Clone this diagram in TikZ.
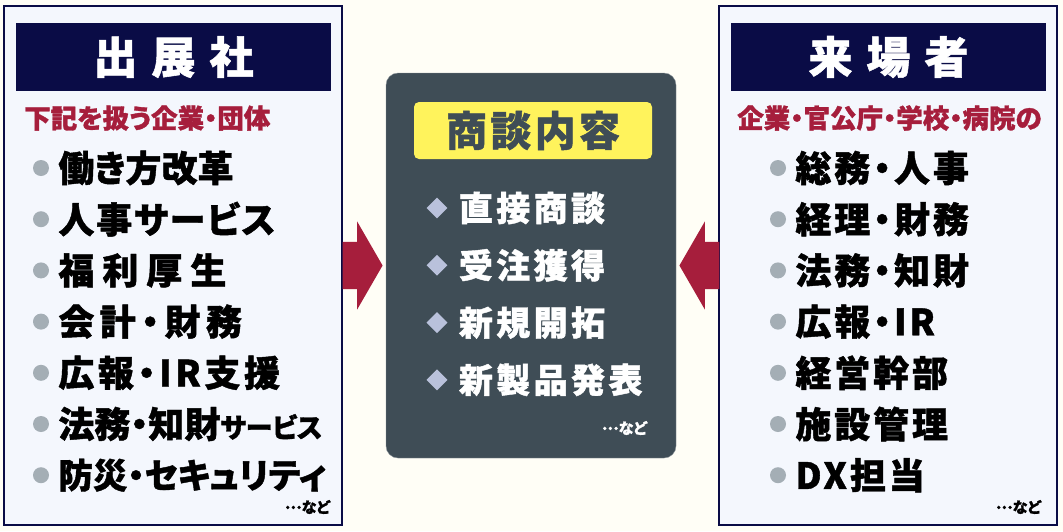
\documentclass[tikz,border=0pt]{standalone}
\usepackage{fontspec}
\setmainfont{Noto Sans CJK JP}[RawFeature=+palt, BoldFeatures={FakeBold=1.2}]
\usetikzlibrary{positioning, calc, shapes.arrows, shapes.geometric}

\definecolor{cream}{HTML}{FFFEF6}
\definecolor{navy}{HTML}{0A0C46}
\definecolor{panelbg}{HTML}{F4F7FD}
\definecolor{crimson}{HTML}{A61E3C}
\definecolor{dotgray}{HTML}{A4AEB5}
\definecolor{slate}{HTML}{3F4D56}
\definecolor{lblyellow}{HTML}{FFF35C}
\definecolor{diamondc}{HTML}{B9C1DB}

\newcommand{\spaced}[1]{\addfontfeature{LetterSpace=#1}}

\begin{document}
\begin{tikzpicture}[x=1pt, y=-1pt]
    \tikzset{
        panel/.style={draw=navy, line width=2.5pt, fill=panelbg, minimum width=338pt, minimum height=519pt, inner sep=0pt},
        titlebar/.style={fill=navy, text=white, minimum width=315pt, minimum height=68pt, inner sep=0pt, font=\fontsize{44}{44}\selectfont\bfseries},
        subtitle/.style={text=crimson, inner sep=0pt, font=\fontsize{26.5}{26.5}\selectfont\bfseries},
        bulletdot/.style={circle, fill=dotgray, minimum size=16pt, inner sep=0pt},
        itemtxt/.style={inner sep=0pt, font=\fontsize{36}{36}\selectfont\bfseries},
        etc/.style={inner sep=0pt, anchor=east, font=\fontsize{15}{15}\selectfont\bfseries},
        inarrow/.style={single arrow, fill=crimson, inner sep=0pt, minimum height=40pt,
            single arrow head extend=20.5pt, single arrow tip angle=120, anchor=tip}
    }

    % 背景
    \fill[cream] (0,0) rectangle (1063,531);
    \useasboundingbox (0,0) rectangle (1063,531);

    % 1. 出展社 (左)
    \node[panel] (exhibitor) at (173,265.5) {};
    \node[titlebar] (exhtitle) at (173.5,57) {出\hspace{14pt}展\hspace{14pt}社};
    \node[subtitle, anchor=west] (exhsub) at (24,118) {下記を扱う企業・団体};
    \foreach \txt [count=\i] in {働き方改革, \spaced{5}人事サービス, 福\hspace{8pt}利\hspace{8pt}厚\hspace{8pt}生,
        \spaced{15}会計・財務, \spaced{10}広報・IR支援, 法務・知財{\fontsize{27}{27}\selectfont サービス},
        \fontsize{34.5}{34.5}\selectfont 防災・セキュリティ} {
        \node[bulletdot] (exhdot\i) at (41,{168+51.2*(\i-1)}) {};
        \node[itemtxt, right=9pt of exhdot\i] (exh\i) {\txt};
    }
    \node[etc] (exhetc) at (330,507) {\raisebox{4pt}{…}など};

    % 2. 来場者 (右)
    \node[panel] (visitor) at (888,265.5) {};
    \node[titlebar] (vistitle) at (888.5,57) {来\hspace{14pt}場\hspace{14pt}者};
    \node[subtitle] (vissub) at (889.5,118) {企業・官公庁・学校・病院の};
    \foreach \txt [count=\i] in {総務・人事, 経理・財務, 法務・知財, 広報・IR, 経営幹部, 施設管理, DX担当} {
        \node[bulletdot] (visdot\i) at (778,{168+51.2*(\i-1)}) {};
        \node[itemtxt, right=9pt of visdot\i] (vis\i) {\spaced{8}\txt};
    }
    \node[etc] (visetc) at (1041,507) {\raisebox{4pt}{…}など};

    % 3. 商談内容 (中央)
    \node[fill=slate, draw=slate!60, rounded corners=12pt, minimum width=290pt, minimum height=385pt] (deal) at (531,265.5) {};
    \node[fill=lblyellow, rounded corners=5pt, minimum width=238pt, minimum height=57pt, inner sep=0pt,
        text=slate, font=\fontsize{41}{41}\selectfont\bfseries] (dealtitle) at (533,130.5) {\spaced{8}商談内容};
    \foreach \txt [count=\i] in {直接商談, 受注獲得, 新規開拓, 新製品発表} {
        \node[diamond, fill=diamondc, minimum size=21pt, inner sep=0pt] (dealdia\i) at (437,{208+57.3*(\i-1)}) {};
        \node[itemtxt, text=white, font=\fontsize{34}{34}\selectfont\bfseries, right=11pt of dealdia\i] (deal\i) {\spaced{10}\txt};
    }
    \node[etc, text=white] (dealetc) at (647,428) {\raisebox{4pt}{…}など};

    % 4. 矢印
    \node[inarrow] (arrowL) at ($(deal.west)+(-3,0)$) {\rule{0pt}{47pt}};
    \node[inarrow, shape border rotate=180] (arrowR) at ($(deal.east)+(3,0)$) {\rule{0pt}{47pt}};

\end{tikzpicture}
\end{document}
